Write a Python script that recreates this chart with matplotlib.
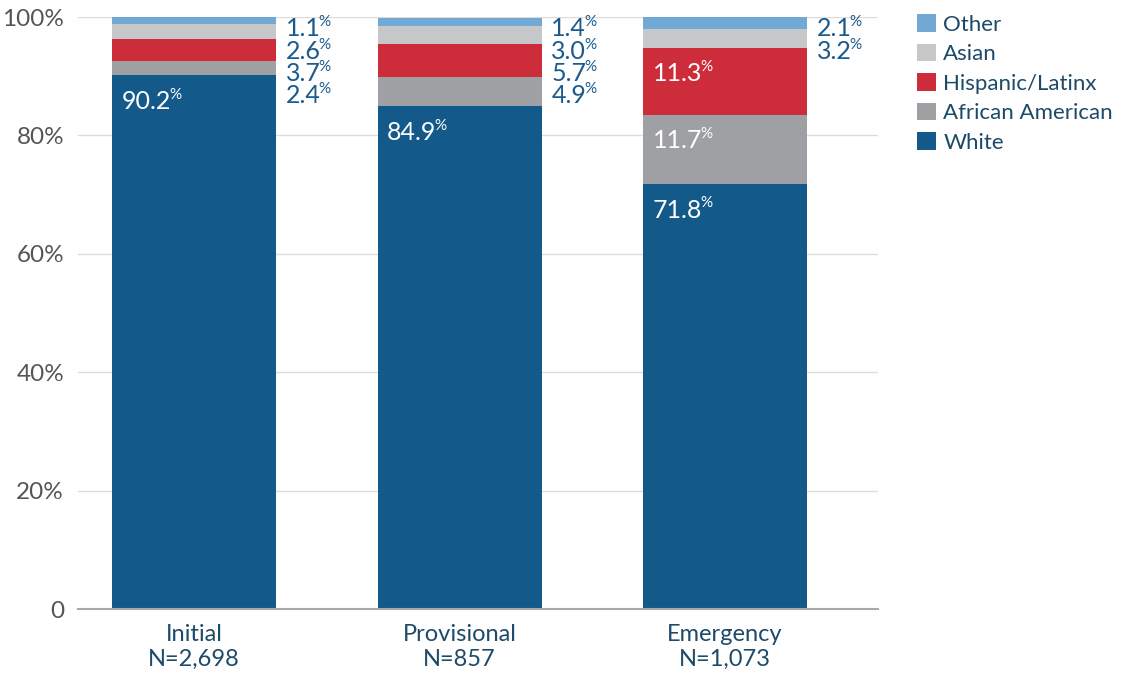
import matplotlib
matplotlib.use('Agg')
import matplotlib.pyplot as plt
import numpy as np
from matplotlib.patches import Patch

plt.rcParams['font.family'] = ['Lato', 'DejaVu Sans']

categories = ['Initial', 'Provisional', 'Emergency']
n_labels = ['N=2,698', 'N=857', 'N=1,073']
series_names = ['White', 'African American', 'Hispanic/Latinx', 'Asian', 'Other']
white = [90.2, 84.9, 71.8]
african_american = [2.4, 4.9, 11.7]
hispanic = [3.7, 5.7, 11.3]
asian = [2.6, 3.0, 3.2]
other = [1.1, 1.4, 2.1]
yticks = [0, 20, 40, 60, 80, 100]
ytick_labels = ['0', '20%', '40%', '60%', '80%', '100%']

colors = ['#135a8a', '#9fa0a4', '#cd2c3b', '#c6c7c9', '#72a9d4']
series = [white, african_american, hispanic, asian, other]

LABEL_BLUE = '#1a5a8c'
NAVY = '#1d4a68'

fig = plt.figure(figsize=(11.26, 6.74), dpi=100)
ax = fig.add_axes([78 / 1126, 1 - 609 / 674, 800 / 1126, 592 / 674])

x = np.arange(len(categories))
w = 0.618
bottom = np.zeros(len(categories))
for vals, c, name in zip(series, colors, series_names):
    ax.bar(x, vals, width=w, bottom=bottom, color=c, label=name, zorder=2, linewidth=0)
    bottom = bottom + np.array(vals)

ax.set_xlim(-0.437, 2.576)
ax.set_ylim(0, 100)


def pct_label(txt_artist, color):
    ax.annotate('%', xy=(1, 1), xycoords=txt_artist, xytext=(-1.5, 1.5),
                textcoords='offset points', ha='left', va='top',
                fontsize=11, color=color)


for i in range(len(categories)):
    vals = [s[i] for s in series]
    cum = np.cumsum(vals)
    # inside labels (large segments)
    for j, v in enumerate(vals):
        if v >= 10:
            t = ax.annotate(f'{v:.1f}', xy=(x[i] - w / 2, cum[j]),
                            xytext=(7, -10.5), textcoords='offset points',
                            ha='left', va='top', fontsize=18, color='white', zorder=3)
            pct_label(t, 'white')
    # outside labels (small segments), stacked from the top
    k = 0
    for j in range(len(vals) - 1, -1, -1):
        v = vals[j]
        if v < 10:
            t = ax.annotate(f'{v:.1f}', xy=(x[i] + w / 2, 100),
                            xytext=(7, -14 - k * 16), textcoords='offset points',
                            ha='left', va='baseline', fontsize=18, color=LABEL_BLUE)
            pct_label(t, LABEL_BLUE)
            k += 1

ax.set_xticks(x, [f'{c}\n{n}' for c, n in zip(categories, n_labels)])
for lbl in ax.get_xticklabels():
    lbl.set_linespacing(1.2)
ax.tick_params(axis='x', length=0, pad=11, labelsize=17, labelcolor=NAVY)
ax.set_yticks(yticks, ytick_labels)
ax.tick_params(axis='y', length=0, pad=10, labelsize=17.5, labelcolor='#555555')

ax.yaxis.grid(True, color='#dcdcdc', linewidth=1, zorder=0)
ax.set_axisbelow(True)
for s in ['top', 'right', 'left']:
    ax.spines[s].set_visible(False)
ax.spines['bottom'].set_color('#aaaaaa')
ax.spines['bottom'].set_linewidth(1.5)
ax.spines['bottom'].set_zorder(3)

handles = [Patch(facecolor=c, edgecolor='none') for c in colors][::-1]
labels = series_names[::-1]
fig.legend(handles, labels, loc='upper left', bbox_to_anchor=(917 / 1126, 1 - 14 / 674),
           frameon=False, fontsize=16, handlelength=0.86, handleheight=0.86,
           handletextpad=0.32, labelspacing=0.4, borderpad=0, borderaxespad=0,
           labelcolor=NAVY)

fig.savefig('out.png', dpi=100)
